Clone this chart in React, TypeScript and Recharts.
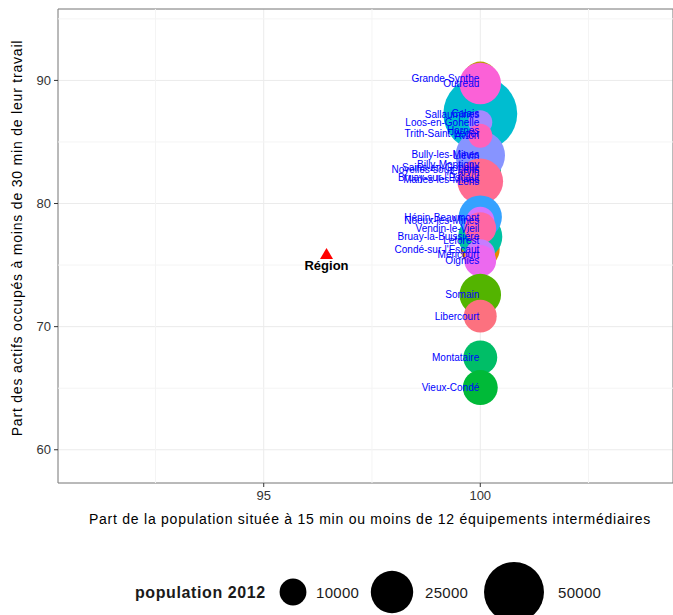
import {
  CartesianGrid,
  Cell,
  ReferenceArea,
  ReferenceLine,
  Scatter,
  ScatterChart,
  XAxis,
  YAxis,
  ZAxis
} from 'recharts';

// communes, in drawing order (ggplot draws rows in order)
const communes = [
  'Sallaumines', 'Billy-Montigny', 'Sains-en-Gohelle', 'Noyelles-sous-Lens', 'Marles-les-Mines',
  'Trith-Saint-Léger', 'Harnes', 'Leforest', 'Bully-les-Mines', 'Grande-Synthe',
  "Bruay-sur-l'Escaut", 'Carvin', 'Calais', 'Loos-en-Gohelle', 'Liévin', 'Avion', 'Lens', 'Outreau',
  "Condé-sur-l'Escaut", 'Bruay-la-Buissière', 'Hénin-Beaumont', 'Noeux-les-Mines', 'Vendin-le-Vieil',
  'Méricourt', 'Oignies', 'Somain', 'Libercourt', 'Montataire', 'Vieux-Condé'
];
const partEquipements = [
  100, 100, 100, 100, 100, 100, 100, 100, 100, 100,
  100, 100, 100, 100, 100, 100, 100, 100,
  100, 100, 100, 100, 100, 100, 100, 100, 100, 100, 100
];
const partActifs30min = [
  87.2, 83.2, 82.95, 82.75, 81.95, 85.7, 85.95, 77.0, 84.0, 90.15,
  82.1, 82.6, 87.3, 86.6, 83.9, 85.5, 81.8, 89.75,
  76.3, 77.3, 78.9, 78.6, 78.0, 75.9, 75.35, 72.6, 70.85, 67.5, 65.05
];
const population2012 = [
  9000, 8000, 6000, 7000, 6000, 7000, 11000, 7000, 12000, 16000,
  18000, 24000, 76000, 8000, 34000, 8000, 29000, 24000,
  21000, 27000, 26000, 11000, 14000, 12000, 14000, 24000, 15000, 16000, 17000
];

const region = { name: 'Région', x: 96.45, y: 75.9 };

const xTicks = [95, 100];
const yTicks = [60, 70, 80, 90];
const xMinor = [92.5, 97.5, 102.5];
const yMinor = [65, 75, 85, 95];
const legendPops = [10000, 25000, 50000];

const bubbleColors = [
  '#00B4EF', '#00B0F6', '#39B600', '#7CAE00', '#E38900',
  '#F8766D', '#E76BF3', '#00A9FF', '#619CFF', '#B79F00',
  '#9590FF', '#00C08B', '#00BDD0', '#A58AFF', '#8794FF', '#FF62BC', '#FF6C91', '#FB61D7',
  '#E58700', '#00C1A3', '#35A2FF', '#D575FE', '#FF67A4', '#C77CFF', '#EC69EF',
  '#53B400', '#FC717F', '#00BE67', '#00BA38'
];

const X_DOMAIN: [number, number] = [90.25, 104.45];
const Y_DOMAIN: [number, number] = [57.3, 95.8];
const POP_MAX = 100000;
const AREA_MAX = Math.PI * 42.4 * 42.4;

const font = '"Liberation Sans", Arial, sans-serif';

const data = communes.map((name, i) => ({
  name,
  x: partEquipements[i],
  y: partActifs30min[i],
  pop: population2012[i]
}));

const legendRadius = (p: number) => Math.sqrt(((p / POP_MAX) * AREA_MAX) / Math.PI);

function CommuneLabel(props: any) {
  const { cx, cy, payload } = props;
  return (
    <text
      x={cx - 1}
      y={cy}
      dy="0.35em"
      textAnchor="end"
      fontSize={10}
      fontFamily={font}
      fill="#0000FF"
    >
      {payload.name}
    </text>
  );
}

function RegionMark(props: any) {
  const { cx, cy, payload } = props;
  return (
    <g>
      <polygon points={`${cx},${cy - 6} ${cx - 6.5},${cy + 5} ${cx + 6.5},${cy + 5}`} fill="#FF0000" />
      <text x={cx} y={cy + 16} textAnchor="middle" fontSize={13} fontWeight="bold" fontFamily={font} fill="#000">
        {payload.name}
      </text>
    </g>
  );
}

export default function App() {
  return (
    <div style={{ position: 'absolute', left: 0, top: 0, width: 673, height: 615, fontFamily: font, background: '#fff' }}>
      <ScatterChart width={673} height={615} margin={{ top: 9, right: 0, left: 0, bottom: 82 }}>
        <CartesianGrid stroke="#ebebeb" strokeWidth={1} />
        {xMinor.map((v) => (
          <ReferenceLine key={`xm-${v}`} x={v} stroke="#f4f4f4" strokeWidth={1} />
        ))}
        {yMinor.map((v) => (
          <ReferenceLine key={`ym-${v}`} y={v} stroke="#f4f4f4" strokeWidth={1} />
        ))}
        <XAxis
          type="number"
          dataKey="x"
          domain={X_DOMAIN}
          ticks={xTicks}
          interval={0}
          allowDataOverflow
          axisLine={false}
          tickLine={{ stroke: '#333' }}
          tickSize={4}
          tickMargin={4}
          height={50}
          tick={{ fill: '#333', fontSize: 13, fontFamily: font }}
        />
        <YAxis
          type="number"
          dataKey="y"
          domain={Y_DOMAIN}
          ticks={yTicks}
          interval={0}
          allowDataOverflow
          axisLine={false}
          tickLine={{ stroke: '#333' }}
          tickSize={4}
          tickMargin={3}
          width={58}
          tick={{ fill: '#333', fontSize: 13, fontFamily: font }}
        />
        <ZAxis type="number" dataKey="pop" domain={[0, POP_MAX]} range={[0, AREA_MAX]} />
        <Scatter data={data} shape="circle" isAnimationActive={false}>
          {data.map((d, i) => (
            <Cell key={`c-${d.name}`} fill={bubbleColors[i]} />
          ))}
        </Scatter>
        <Scatter data={data} shape={CommuneLabel} isAnimationActive={false} />
        <Scatter data={[region]} shape={RegionMark} isAnimationActive={false} />
        <ReferenceArea
          x1={X_DOMAIN[0]}
          x2={X_DOMAIN[1]}
          y1={Y_DOMAIN[0]}
          y2={Y_DOMAIN[1]}
          fill="none"
          fillOpacity={0}
          stroke="#7f7f7f"
          strokeWidth={1}
        />
      </ScatterChart>
      <svg width={673} height={615} style={{ position: 'absolute', left: 0, top: 0, pointerEvents: 'none' }}>
        <text
          transform="translate(22,238) rotate(-90)"
          textAnchor="middle"
          fontSize={14}
          letterSpacing={0.8}
          fontFamily={font}
          fill="#000"
        >
          Part des actifs occupés à moins de 30 min de leur travail
        </text>
        <text x={370} y={524} textAnchor="middle" fontSize={14} letterSpacing={0.75} fontFamily={font} fill="#000">
          Part de la population située à 15 min ou moins de 12 équipements intermédiaires
        </text>
        <text x={135} y={598} fontSize={16} letterSpacing={0.6} fontWeight="bold" fontFamily={font} fill="#1a1a1a">
          population 2012
        </text>
        {legendPops.map((p, i) => {
          const r = legendRadius(p);
          const cx = [293, 392, 514][i];
          const tx = [316, 425, 558][i];
          return (
            <g key={`lg-${p}`}>
              <circle cx={cx} cy={592} r={r} fill="#000" />
              <text x={tx} y={598} fontSize={15} letterSpacing={0.3} fontFamily={font} fill="#1a1a1a">
                {p}
              </text>
            </g>
          );
        })}
      </svg>
    </div>
  );
}
